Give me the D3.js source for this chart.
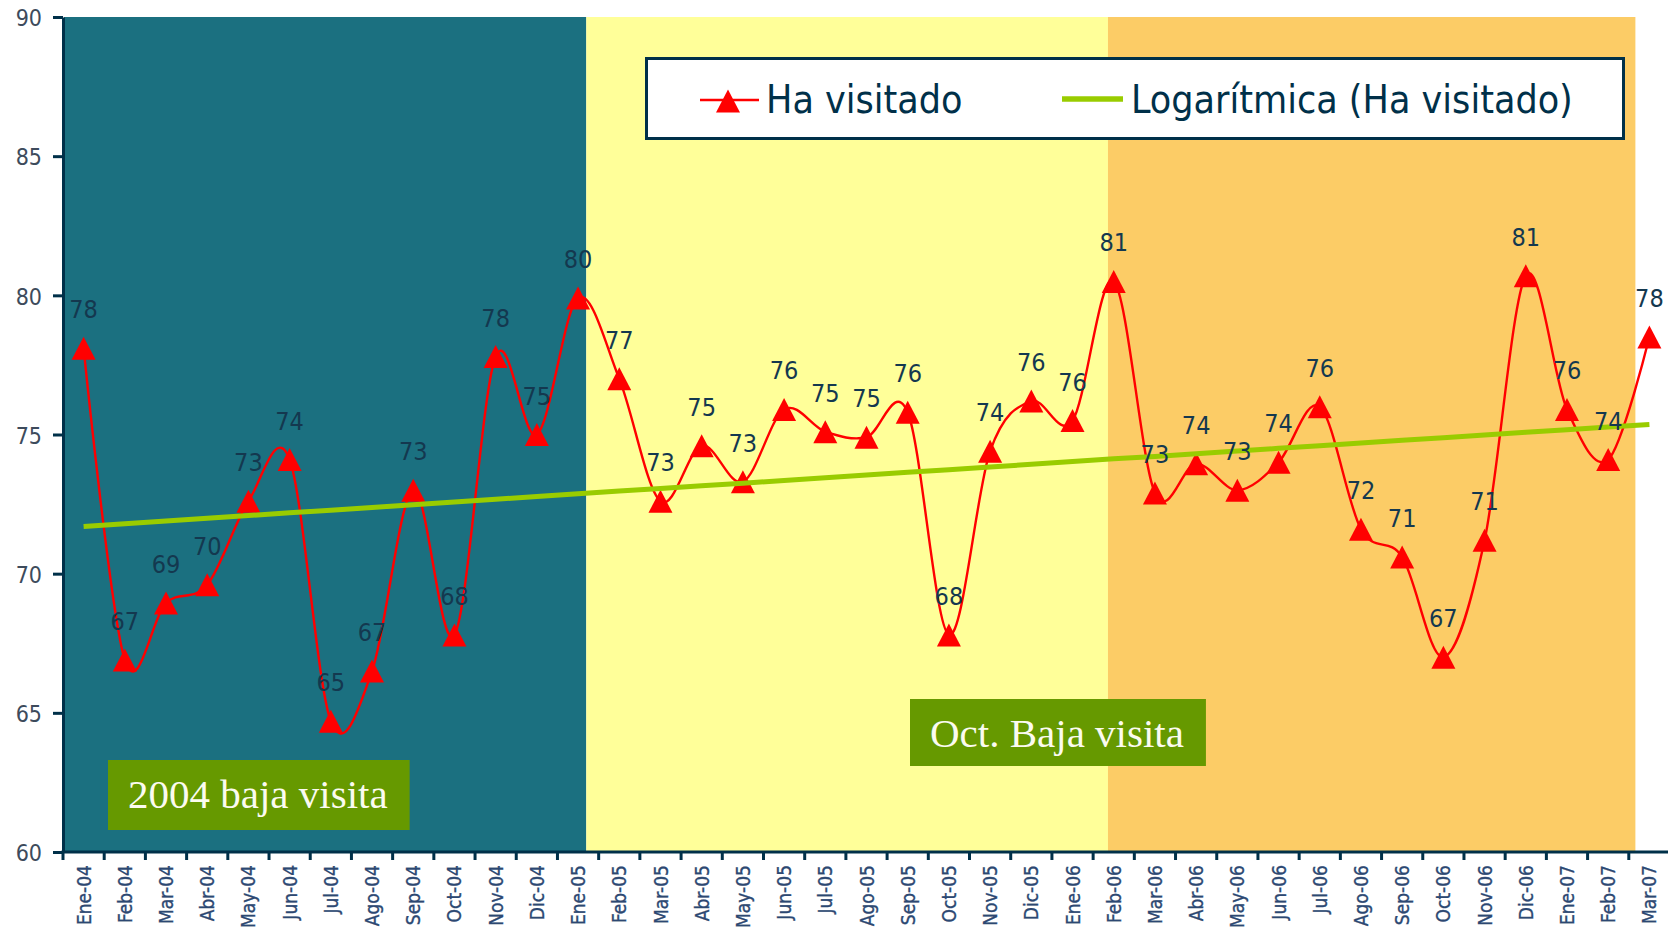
<!DOCTYPE html>
<html>
<head>
<meta charset="utf-8">
<script src="https://cdn.jsdelivr.net/npm/d3@7/dist/d3.min.js"></script>
<style>
  html, body { margin: 0; padding: 0; background: #ffffff; }
  svg { display: block; }
  .cond { font-family: "DejaVu Sans Condensed", "DejaVu Sans", sans-serif; font-stretch: condensed; }
  .serif { font-family: "Liberation Serif", "DejaVu Serif", serif; }
</style>
</head>
<body>
<svg id="chart" width="1668" height="931"></svg>
<script>
// ---------------- DATA ----------------
const categories = [
  "Ene-04","Feb-04","Mar-04","Abr-04","May-04","Jun-04","Jul-04","Ago-04","Sep-04","Oct-04","Nov-04","Dic-04",
  "Ene-05","Feb-05","Mar-05","Abr-05","May-05","Jun-05","Jul-05","Ago-05","Sep-05","Oct-05","Nov-05","Dic-05",
  "Ene-06","Feb-06","Mar-06","Abr-06","May-06","Jun-06","Jul-06","Ago-06","Sep-06","Oct-06","Nov-06","Dic-06",
  "Ene-07","Feb-07","Mar-07"
];
const haVisitado = [
  78.1, 66.9, 68.95, 69.6, 72.6, 74.1, 64.7, 66.5, 73.0, 67.8, 77.8, 75.0,
  79.9, 77.0, 72.6, 74.6, 73.3, 75.9, 75.1, 74.9, 75.8, 67.8, 74.4, 76.2,
  75.5, 80.5, 72.9, 73.95, 73.0, 74.0, 76.0, 71.6, 70.6, 67.0, 71.2, 80.7,
  75.9, 74.1, 78.5
];
const dataLabels = [
  "78","67","69","70","73","74","65","67","73","68","78","75",
  "80","77","73","75","73","76","75","75","76","68","74","76",
  "76","81","73","74","73","74","76","72","71","67","71","81",
  "76","74","78"
];
const yTicks = [60, 65, 70, 75, 80, 85, 90];
const seriesNames = ["Ha visitado", "Logarítmica (Ha visitado)"];
// background periods, each ending near a category
const bandEnds = ["Ene-05", "Feb-06", "Mar-07"];
const bandColors = ["#1B7080", "#FFFF99", "#FCCC66"];
const noteTexts = ["2004 baja visita", "Oct. Baja visita"];
const startYear = 2004;

// ---------------- LAYOUT ----------------
const svg = d3.select("#chart");
const plotL = 63, plotR = 1670, plotT = 17, plotB = 852;
const navy = "#003049";

const x = d3.scaleBand().domain(categories).range([plotL, plotR]).padding(0);
const bw = x.bandwidth();
const cx = c => x(c) + bw / 2;
const y = d3.scaleLinear().domain([60, 90]).range([plotB, plotT]);

// ---------------- BACKGROUNDS ----------------
const endShift = [0.2, -0.14, -0.34];   // hand-drawn shapes: offsets in bandwidths
const edges = [plotL + 1].concat(bandEnds.map((c, i) => cx(c) + endShift[i] * bw));
svg.append("g").selectAll("rect").data(bandColors).join("rect")
  .attr("x", (d, i) => edges[i])
  .attr("y", plotT)
  .attr("width", (d, i) => edges[i + 1] - edges[i])
  .attr("height", plotB - plotT)
  .attr("fill", d => d);

// ---------------- TREND (logarithmic on Excel date serials) ----------------
const serial = categories.map((c, i) => (Date.UTC(startYear, i, 1) - Date.UTC(1899, 11, 30)) / 864e5);
const lx = serial.map(Math.log);
const mx = d3.mean(lx), my = d3.mean(haVisitado);
const slope = d3.sum(lx, (v, i) => (v - mx) * (haVisitado[i] - my)) / d3.sum(lx, v => (v - mx) * (v - mx));
const icpt = my - slope * mx;
const trend = lx.map(v => icpt + slope * v);

// ---------------- SERIES ----------------
const line = d3.line()
  .x((d, i) => cx(categories[i]))
  .y(d => y(d))
  .curve(d3.curveCatmullRom.alpha(0));

svg.append("path")
  .datum(haVisitado)
  .attr("d", line)
  .attr("fill", "none")
  .attr("stroke", "#FF0000")
  .attr("stroke-width", 2.4);

const tri = "M0,-11.5L12,11.5L-12,11.5Z";
svg.append("g").selectAll("path").data(haVisitado).join("path")
  .attr("d", tri)
  .attr("transform", (d, i) => `translate(${cx(categories[i])},${y(d)})`)
  .attr("fill", "#FF0000");

svg.append("path")
  .datum(trend)
  .attr("d", d3.line().x((d, i) => cx(categories[i])).y(d => y(d)))
  .attr("fill", "none")
  .attr("stroke", "#99CC00")
  .attr("stroke-width", 5);

// data labels
svg.append("g").selectAll("text").data(haVisitado).join("text")
  .attr("class", "cond")
  .attr("x", (d, i) => cx(categories[i]))
  .attr("y", d => y(d) - 30)
  .attr("text-anchor", "middle")
  .attr("font-size", 25)
  .attr("fill", "#14384f")
  .text((d, i) => dataLabels[i]);

// ---------------- AXES ----------------
const yAxis = svg.append("g")
  .attr("transform", `translate(${plotL},0)`)
  .call(d3.axisLeft(y).tickValues(yTicks).tickSize(10).tickSizeOuter(0).tickPadding(11));
yAxis.select(".domain").attr("stroke", navy).attr("stroke-width", 3);
yAxis.selectAll(".tick line").attr("stroke", navy).attr("stroke-width", 3);
yAxis.selectAll(".tick text")
  .attr("class", "cond")
  .attr("font-size", 23)
  .attr("fill", "#3d4b5c")
  .attr("dy", "0.38em");

const xAxis = svg.append("g")
  .attr("transform", `translate(0,${plotB})`)
  .call(d3.axisBottom(x).tickSize(0).tickSizeOuter(0));
xAxis.select(".domain").attr("stroke", navy).attr("stroke-width", 3)
  .attr("d", `M${plotL - 1.5},0H1668`);
xAxis.selectAll(".tick text")
  .attr("class", "cond")
  .attr("font-size", 19)
  .attr("fill", "#2c4872")
  .attr("stroke", "#2c4872")
  .attr("stroke-width", 0.35)
  .attr("transform", "rotate(-90)")
  .attr("text-anchor", "end")
  .attr("x", -13)
  .attr("y", 0)
  .attr("dy", "0.37em");
// boundary tick marks
xAxis.append("g").selectAll("line").data(categories.concat(["__end"])).join("line")
  .attr("x1", (c, i) => i < categories.length ? x(c) : plotR)
  .attr("x2", (c, i) => i < categories.length ? x(c) : plotR)
  .attr("y1", 0).attr("y2", 8)
  .attr("stroke", navy).attr("stroke-width", 3);

// ---------------- ANNOTATION BOXES ----------------
const notePos = [
  { textX: 128, baseline: 808, boxH: 70 },
  { textX: 930, baseline: 747, boxH: 67 }
];
noteTexts.forEach((txt, i) => {
  const p = notePos[i];
  const g = svg.append("g");
  const t = g.append("text")
    .attr("class", "serif")
    .attr("font-size", 41)
    .attr("fill", "#fbfbf0")
    .attr("x", p.textX)
    .attr("y", p.baseline)
    .text(txt);
  const tw = t.node().getComputedTextLength();
  g.insert("rect", "text")
    .attr("x", p.textX - 20)
    .attr("y", p.baseline - 48)
    .attr("width", tw + 42)
    .attr("height", p.boxH)
    .attr("fill", "#669900");
});

// ---------------- LEGEND ----------------
const lg = svg.append("g");
lg.append("rect")
  .attr("x", 646.5).attr("y", 58.5)
  .attr("width", 977).attr("height", 80)
  .attr("fill", "#ffffff")
  .attr("stroke", navy).attr("stroke-width", 3);
lg.append("line")
  .attr("x1", 700).attr("x2", 759).attr("y1", 100).attr("y2", 100)
  .attr("stroke", "#FF0000").attr("stroke-width", 2.6);
lg.append("path").attr("d", tri).attr("transform", "translate(728,101)").attr("fill", "#FF0000");
lg.append("text").attr("class", "cond").attr("x", 766).attr("y", 113)
  .attr("font-size", 39).attr("fill", navy).text(seriesNames[0]);
lg.append("line")
  .attr("x1", 1062).attr("x2", 1123).attr("y1", 99).attr("y2", 99)
  .attr("stroke", "#99CC00").attr("stroke-width", 5.5);
lg.append("text").attr("class", "cond").attr("x", 1131).attr("y", 113)
  .attr("font-size", 39).attr("fill", navy).text(seriesNames[1]);
</script>
</body>
</html>
